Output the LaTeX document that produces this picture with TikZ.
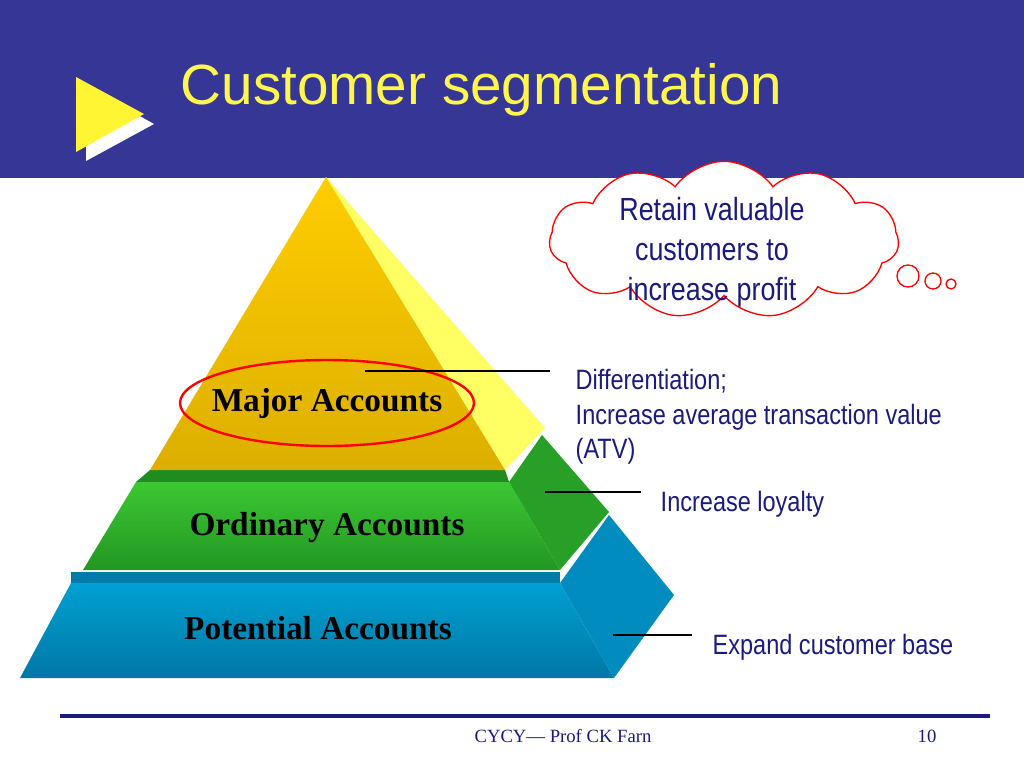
\documentclass[tikz,border=0pt]{standalone}
\usepackage{fontspec}
\setmainfont{Liberation Serif}
\newfontfamily\arial{Liberation Sans}
\newfontfamily\narrow[FakeStretch=0.84]{Liberation Sans}
\usetikzlibrary{shapes.symbols}
\definecolor{hdr}{HTML}{353695}
\definecolor{navy}{HTML}{1A1A80}
\definecolor{bLedge}{RGB}{0,122,168}
\definecolor{bTop}{RGB}{0,160,210}
\definecolor{bBot}{RGB}{0,120,165}
\definecolor{bSide}{RGB}{0,140,190}
\definecolor{gLedge}{RGB}{30,140,30}
\definecolor{gTop}{RGB}{60,200,50}
\definecolor{gBot}{RGB}{35,150,35}
\definecolor{gSide}{RGB}{40,160,40}
\definecolor{ySide}{RGB}{255,255,100}
\definecolor{yTop}{RGB}{255,205,0}
\definecolor{yBot}{RGB}{220,175,0}
\begin{document}
\begin{tikzpicture}[x=0.75pt,y=-0.75pt,
  lbl/.style={font=\bfseries\fontsize{25}{28}\selectfont,text=black},
  note/.style={font=\narrow\fontsize{21}{26}\selectfont,text=navy,align=left,anchor=west},
  lead/.style={draw=black,line width=0.8pt}]
\useasboundingbox (0,0) rectangle (1024,768);
\fill[white] (0,0) rectangle (1024,768);
\fill[hdr] (0,0) rectangle (1024,178);
\fill[white] (86,86) -- (154,124) -- (86,161) -- cycle;
\fill[yellow!80!white] (76,77) -- (144,114) -- (76,152) -- cycle;
\node[font=\arial\fontsize{42.5}{48}\selectfont,text=yellow!70!white,anchor=west] (title) at (176,90) {Customer segmentation};
% blue tier
\fill[bLedge] (71,572) -- (560,572) -- (560,583) -- (71,583) -- cycle;
\shade[top color=bTop,bottom color=bBot] (71,583) -- (560,583) -- (614,678) -- (20,678) -- cycle;
\fill[bSide] (560,583) -- (609,515) -- (674,595) -- (614,678) -- cycle;
% green tier
\fill[gLedge] (150,470) -- (505,470) -- (509,482) -- (136,482) -- cycle;
\shade[top color=gTop,bottom color=gBot] (136,482) -- (509,482) -- (560,570) -- (83,570) -- cycle;
\fill[gSide] (509,482) -- (542,435) -- (609,512) -- (560,570) -- cycle;
% yellow tier
\fill[ySide] (326,177) -- (545,428) -- (505,470) -- cycle;
\shade[top color=yTop,bottom color=yBot] (326,177) -- (505,470) -- (150,470) -- cycle;
\node[lbl] (major) at (327,403) {Major Accounts};
\node[lbl] (ord) at (327,528) {Ordinary Accounts};
\node[lbl] (pot) at (318,628) {Potential Accounts};
\draw[red,line width=1.8pt] (major) ellipse [x radius=147,y radius=43];
% leaders
\coordinate (l1a) at (365,371); \coordinate (l1b) at (550,371);
\coordinate (l2a) at (545,492); \coordinate (l2b) at (641,492);
\coordinate (l3a) at (613,635); \coordinate (l3b) at (692,635);
\draw[lead] (l1a) -- (l1b); \draw[lead] (l2a) -- (l2b); \draw[lead] (l3a) -- (l3b);
\node[note] (n1) at (571,417) {Differentiation;\\Increase average transaction value\\(ATV)};
\node[note] (n2) at (656,504) {Increase loyalty};
\node[note] (n3) at (708,647) {Expand customer base};
% cloud
\node[cloud,draw=red,fill=white,line width=1pt,cloud puffs=11,cloud puff arc=110,aspect=2.25,minimum width=262,minimum height=118,inner sep=0pt] (cloud) at (724,240) {};
\node[font=\narrow\fontsize{24}{30}\selectfont,text=navy,align=center] (ctext) at (712,252) {Retain valuable\\customers to\\increase profit};
\draw[red,line width=1pt] (908,276) circle[radius=11] (933,281) circle[radius=8] (951,284) circle[radius=5];
% footer
\draw[navy,line width=3pt] (60,716) -- (990,716);
\node[font=\fontsize{14}{16}\selectfont,text=navy] (foot) at (563,736) {CYCY--- Prof CK Farn};
\node[font=\fontsize{14}{16}\selectfont,text=navy] (pg) at (927,736) {10};
\end{tikzpicture}
\end{document}
